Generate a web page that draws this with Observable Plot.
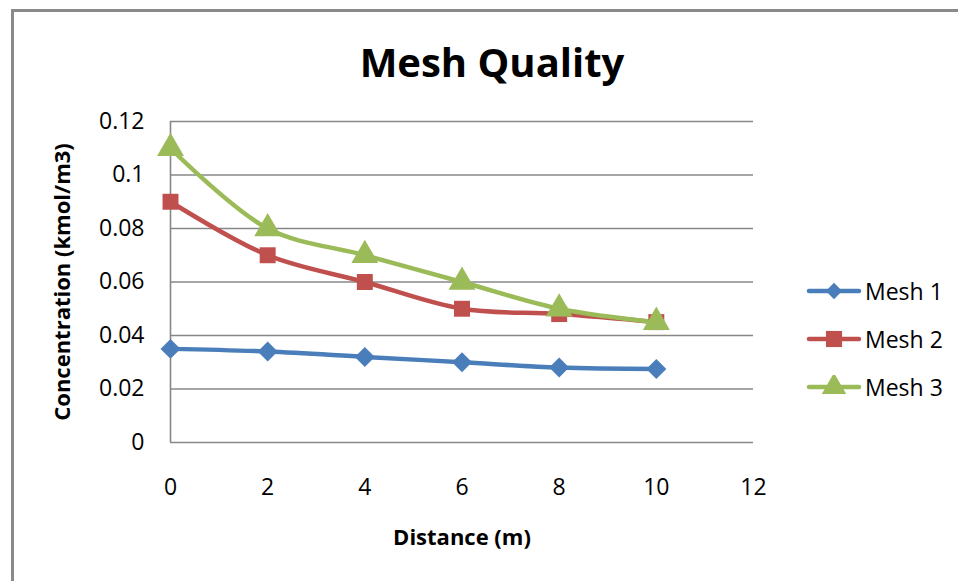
<!DOCTYPE html>
<html>
<head>
<meta charset="utf-8">
<script src="https://cdn.jsdelivr.net/npm/d3@7"></script>
<script src="https://cdn.jsdelivr.net/npm/@observablehq/plot@0.6"></script>
<style>
  html, body { margin: 0; padding: 0; background: #fff; overflow: hidden; }
  #wrap { position: relative; width: 958px; height: 581px; overflow: hidden; font-family: "Open Sans", sans-serif; }
  #frame { position: absolute; left: 11px; top: 9px; width: 1000px; height: 700px; border-left: 3px solid #8a8a8a; border-top: 3px solid #8a8a8a; box-sizing: border-box; }
  #title { position: absolute; left: 0; top: 0; width: 958px; height: 100px; }
  #title div { position: absolute; left: 0; width: 984px; top: 42px; text-align: center; font-weight: 700; font-size: 40px; color: #000; line-height: 1; }
  #chart { position: absolute; left: 0; top: 100px; }
  #legend { position: absolute; left: 806px; top: 267px; }
  .item { display: flex; align-items: center; height: 48px; font-size: 23px; color: #000; }
  .item svg { margin-right: 3px; }
</style>
</head>
<body>
<div id="wrap">
  <div id="frame"></div>
  <div id="title"><div>Mesh Quality</div></div>
  <div id="chart"></div>
  <div id="legend"></div>
</div>
<script>
const distance = [0, 2, 4, 6, 8, 10];
const mesh1 = [0.035, 0.034, 0.032, 0.030, 0.028, 0.0275];
const mesh2 = [0.090, 0.070, 0.060, 0.050, 0.048, 0.045];
const mesh3 = [0.110, 0.080, 0.070, 0.060, 0.050, 0.045];
const seriesNames = ["Mesh 1", "Mesh 2", "Mesh 3"];
const seriesColors = ["#4a7ebb", "#c0504d", "#9bbb59"];
const seriesSymbols = ["diamond2", "square", "triangle"];
const xTicks = [0, 2, 4, 6, 8, 10, 12];
const yTicks = [0, 0.02, 0.04, 0.06, 0.08, 0.1, 0.12];
const yTickLabels = ["0", "0.02", "0.04", "0.06", "0.08", "0.1", "0.12"];
const xTitle = "Distance (m)";
const yTitle = "Concentration (kmol/m3)";

const seriesValues = [mesh1, mesh2, mesh3];
const rows = [];
seriesNames.forEach((name, i) => {
  distance.forEach((d, j) => rows.push({series: name, x: d, y: seriesValues[i][j]}));
});

const markerSize = {"Mesh 1": 9, "Mesh 2": 9, "Mesh 3": 10};

const plot = Plot.plot({
  width: 958,
  height: 481,
  marginLeft: 170,
  marginRight: 205,
  marginTop: 21,
  marginBottom: 139,
  style: {fontFamily: "Open Sans, sans-serif", fontSize: "23px", color: "#000", background: "transparent", overflow: "visible"},
  x: {domain: [0, 12], ticks: xTicks},
  y: {domain: [0, 0.12], ticks: yTicks},
  color: {domain: seriesNames, range: seriesColors},
  symbol: {domain: seriesNames, range: seriesSymbols},
  marks: [
    Plot.ruleY(yTicks, {stroke: "#878787", strokeWidth: 1.6}),
    Plot.ruleX([0], {stroke: "#878787", strokeWidth: 1.6}),
    Plot.axisY({ticks: yTicks, tickSize: 0, tickPadding: 26, tickFormat: (d, i) => yTickLabels[i], label: null, fill: "#000"}),
    Plot.axisX({ticks: xTicks, tickSize: 0, tickPadding: 36, tickFormat: d => String(d), label: null, fill: "#000"}),
    Plot.text([yTitle], {frameAnchor: "left", textAnchor: "middle", dx: -108, rotate: -90, fontWeight: "bold", fontSize: 22, fill: "#000"}),
    Plot.text([xTitle], {frameAnchor: "bottom", textAnchor: "middle", dy: 102, fontWeight: "bold", fontSize: 22, fill: "#000"}),
    Plot.line(rows, {x: "x", y: "y", z: "series", stroke: "series", strokeWidth: 4.5, curve: "catmull-rom"}),
    ...seriesNames.map((name, i) => Plot.dot(rows.filter(r => r.series === name), {
      x: "x", y: "y", symbol: "series", fill: "series", stroke: "none", r: markerSize[name]
    }))
  ]
});
document.getElementById("chart").appendChild(plot);

// Legend
const legend = d3.select("#legend");
seriesNames.forEach((name, i) => {
  const item = legend.append("div").attr("class", "item");
  const svg = item.append("svg").attr("width", 56).attr("height", 24);
  svg.append("line").attr("x1", 3).attr("x2", 53).attr("y1", 12).attr("y2", 12)
    .attr("stroke", seriesColors[i]).attr("stroke-width", 4.5).attr("stroke-linecap", "round");
  const sym = d3.symbol().type([d3.symbolDiamond2, d3.symbolSquare, d3.symbolTriangle][i]).size([170, 260, 260][i])();
  svg.append("path").attr("d", sym).attr("transform", "translate(28,12)").attr("fill", seriesColors[i]);
  item.append("span").text(name);
});
</script>
</body>
</html>
